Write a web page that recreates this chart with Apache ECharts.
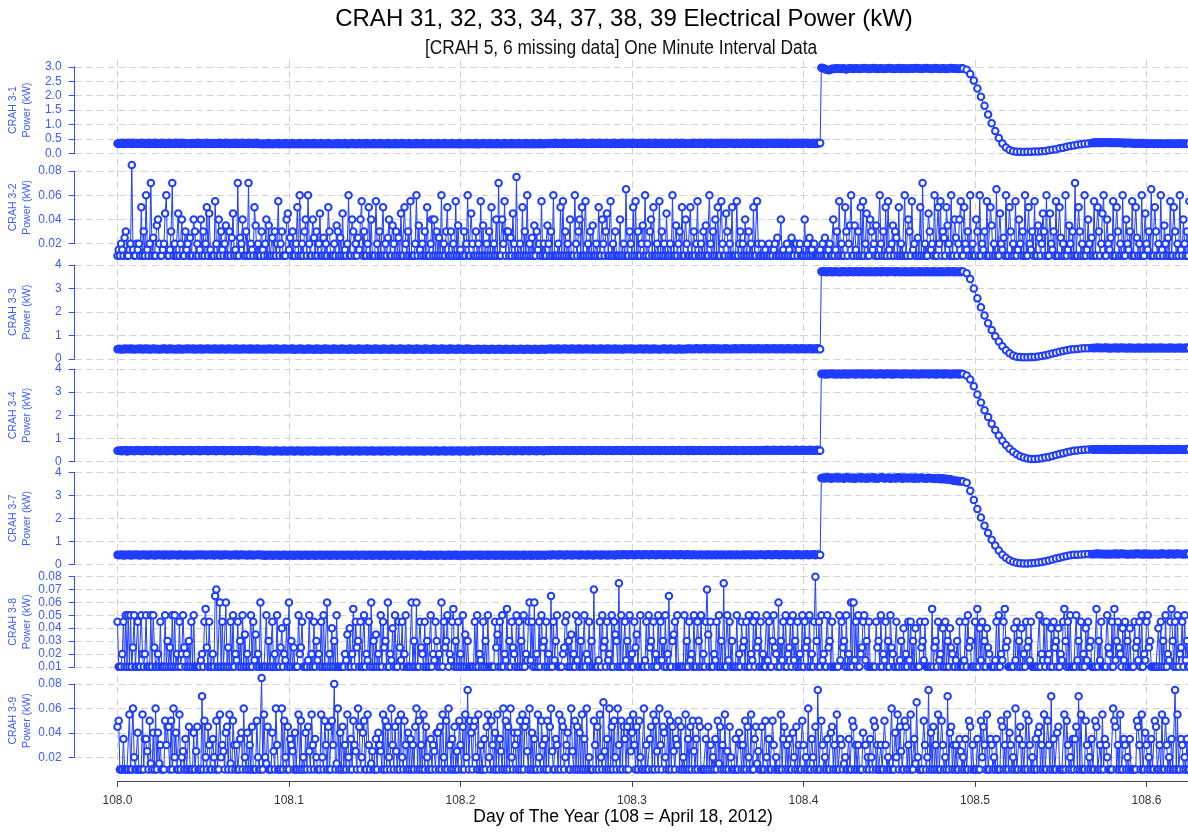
<!DOCTYPE html>
<html>
<head>
<meta charset="utf-8">
<script src="https://cdn.jsdelivr.net/npm/echarts@6.0.0/dist/echarts.min.js"></script>
<style>
html, body { margin: 0; padding: 0; background: #fff; }
#main { width: 1188px; height: 832px; }
</style>
</head>
<body>
<div id="main"></div>
<script>
// time base: day of year 108.0, one sample per minute (fall sections every 3 min)
var dayStart = 108.0;

var panelNames = ['CRAH 3-1', 'CRAH 3-2', 'CRAH 3-3', 'CRAH 3-4', 'CRAH 3-7', 'CRAH 3-8', 'CRAH 3-9'];

// power traces: one char per minute, value = base + digit (base 36) / 100 kW; one row per hour
// fall sections: hundredths of kW every 3 minutes
var crah31LowBase = 0.29;
var crah31Low = [
    "5364736457 4637546354 7463547365 4736453746 3547364537 4635746354",
    "4536453746 3546374536 4635473645 3746354637 4536473546 3745364735",
    "3425342634 2534362435 2634253624 3526342536 2435263425 3624352634",
    "2435263425 3624253634 2536243526 3425362435 2634253624 3526342536",
    "3425362435 2634253624 3526342536 2435263425 3624352634 2435263425",
    "3624253634 2536243526 3425362435 2634253624 3526342536 2435263425",
    "4536453746 3546374536 4635473645 3746354637 4536473546 3745364735",
    "5364736457 4637546354 7463547365 4736453746 3547364537 4635746354",
    "5463745637 4563746573 6457364756 3746574635 7463574637 5647365746",
    "3745637465 7364756374 6573645736 4756374657 3645736475 6"
];
var crah31HighBase = 2.88;
var crah31High = [
    "9874320135 5467654576 4356765457 6545678765 4567865456 7654567876",
    "5456785467 6545676567 8765456787 6545678654 5676545678 7656545676"
];
var crah31Fall = [290,275,252,225,196,165,134,104,77,53,34,20,11,7,5,5,4,5,5,6,6,7,8,10,12,14,17,19,22,25,27,29,31,33,34,35];
var crah31RecBase = 0.29;
var crah31Rec = ["7869786978 8978697868 7867686576 6756564656 5465453545 4354534543 4354534543 4354534543 43"];

var crah33LowBase = 0.38;
var crah33Low = [
    "4635247365 3746254637 5264736253 7463524637 6253746352 4736253647",
    "5364725364 7253647352 6473526374 5263745362 7452637453 6274536273",
    "4536254736 2547362453 7264537261 4537264153 7264513726 4153726451",
    "3726451372 6451372645 1372645137 2645137264 5137264513 7264513726",
    "4513726451 3726451372 6451372645 1372645137 2645137264 5137264513",
    "4263514263 5142635142 6351426351 4263514263 5142635142 6351426351",
    "5364725364 7253647352 6473526374 5263745362 7452637453 6274536273",
    "4635247365 3746254637 5264736253 7463524637 6253746352 4736253647",
    "5746358647 3568473657 4836574635 8475364758 3647583657 4836574685",
    "4736584736 5847365847 3658473658 4736584736 5847365847 3"
];
var crah33HighBase = 3.66;
var crah33High = [
    "6475364753 6475346375 4635746357 4635746354 7364537465 3746537465",
    "4637546354 7364537463 5473645374 6354736453 7463547365 4736453746"
];
var crah33Fall = [365,340,300,258,220,185,152,123,97,74,54,37,24,15,10,8,7,7,8,9,11,13,16,19,23,27,31,34,37,40,42,43,45,46,46,47];
var crah33RecBase = 0.41;
var crah33Rec = ["6576857657 6857465758 6475865746 5847564758 4657485647 5846574857 4657485746 5748564758 46"];

var crah34LowBase = 0.42;
var crah34Low = [
    "4537264815 3746258463 7254836472 5384627354 8263745826 3745826374",
    "5826473582 6374582647 3582647358 2647358264 7358264735 8264735826",
    "3625142635 2416352413 6251436241 5362413526 1435261423 5162435162",
    "4352615243 6152436152 4361524361 5243615243 6152436152 4361524361",
    "5243615243 6152436152 4361524361 5243615243 6152436152 4361524361",
    "4536274536 2745362745 3627453627 4536274536 2745362745 3627453627",
    "5637485637 4856374856 3748563748 5637485637 4856374856 3748563748",
    "6475836475 8364758364 7583647583 6475836475 8364758364 7583647583",
    "5748365748 3657483657 4836574836 5748365748 3657483657 4836574836",
    "6857496857 4968574968 5749685749 6857496857 4968574968 5"
];
var crah34HighBase = 3.72;
var crah34High = [
    "7586475869 5746857469 5847586749 5768495867 4958674859 6748596758",
    "4859675846 9576847596 5847695867 4958674958 6749586745 9586749586"
];
var crah34Fall = [372,355,325,290,255,222,192,163,136,112,90,71,55,42,31,23,17,13,11,11,12,14,17,20,24,28,32,36,40,43,46,48,50,51,52,53];
var crah34RecBase = 0.47;
var crah34Rec = ["5465746546 7456354647 5364756453 7465364756 4537465364 7564536475 6453746536 4756453647 56"];

var crah37LowBase = 0.36;
var crah37Low = [
    "5364725364 7253647352 6473526374 5263745362 7452637453 6274536273",
    "4635247365 3746254637 5264736253 7463524637 6253746352 4736253647",
    "3526142536 1425361425 3614253614 2536142536 1425361425 3614253614",
    "2536142536 1425361425 3614253614 2536142536 1425361425 3614253614",
    "3625142635 2416352413 6251436241 5362413526 1435261423 5162435162",
    "4352615243 6152436152 4361524361 5243615243 6152436152 4361524361",
    "4536274536 2745362745 3627453627 4536274536 2745362745 3627453627",
    "5637485637 4856374856 3748563748 5637485637 4856374856 3748563748",
    "4637546354 7364537463 5473645374 6354736453 7463547365 4736453746",
    "5746358647 3568473657 4836574635 8475364758 3647583657 4"
];
var crah37HighBase = 3.58;
var crah37High = [
    "hifjgkhiej gihkfjhgie jhkgifhjeg ihjfkghiej hgikfjhegi jkhfgihjeg",
    "hifjgkhiej gihfjhgiej hgfjhifgeh ighfegdfeh cdgcebdacb 7564534232"
];
var crah37Fall = [355,320,280,240,203,168,136,107,82,60,42,28,18,11,7,5,4,4,5,6,8,10,13,17,21,25,29,33,36,39,41,42,43,44,45,44];
var crah37RecBase = 0.40;
var crah37Rec = ["5465746546 3546354647 5364756453 4465364756 4537465364 3564536475 6453746536 4756453647 45"];

// low-level units, one char per minute, value = digit (base 36) x 0.005 kW; one row per hour
var crah32Rows = [
    "2324325622 34h3224342 a262c324e2 5227842234 9c2236e242 2924822634",
    "2522862423 82624a2932 22b4282632 4722625923 2e25482262 e2432a7242",
    "2632482722 52624b2462 2289352622 4a2c242682 c422852624 9225242a62",
    "2242762529 2324c22862 42538b2622 4a28222b42 622a242582 2742625292",
    "2a4262b222 4c27324262 a224828262 52c2426a22 6242b27232 2624c22942",
    "26242b2722 4262a24282 e2284b2662 52942f2242 a262c24252 726342b242",
    "274262c222 42a2b26242 8222c42682 a22b242627 2242a22842 6922b24262",
    "2282242d22 642a2b2622 472c242682 a2242b2624 292242c227 2462a22842",
    "2a22624b22 4262722c42 6282a22b42 296242a222 b246242822 6242a22b42",
    "2422322423 2342522823 2242325224 4234222824 2523242222 3242522342",
    "282362b242 2a6247c227 3262a2b249 2286342722 c4262a2b32 472652a242",
    "2c22862b34 2252a2e242 296342c22a 4b2652a742 c2285248b2 2a4362c242",
    "2862c24362 b22a7242d2 294352c22a 6242b23842 62c22a4362 b227524962",
    "c2294362b2 2a5242c237 4262e22a62 42c2384252 b22a6249c2 284352b22a",
    "6242c22843 62b22a5242 c2294362d2 2a6242c327 4252b22a62 42c3284262",
    "b"
];
var crah38Rows = [
    "9222492a2a 2a25a22922 a424a222a2 a522429222 a26252a2a2 42924a5242",
    "6292a22222 3429b52922 42de22c292 2c25292a24 39262a2724 22a2937242",
    "c2222a2622 9242a22582 4392c26252 22a4592222 3a24292634 292a22c242",
    "8262a22222 24372824b2 9562922a24 392c262724 2a29562c24 382a229539",
    "24a2222c26 2c22954292 622a243962 42c2956a24 39b2629242 a272622222",
    "92a2432926 2a22222957 292a243b26 29542a2926 2a2439c392 c24292a562",
    "9242d2936a 2222459a26 27242a3926 22a2439262 e222392a56 29342a2976",
    "2f2a229362 a24295722a 222392a562 9242a39362 a24d226792 a22222a262",
    "9342a22962 a2429e7292 24392a262f 22a3926222 a242956292 a24392a562",
    "92422a3922 6a542c2639 2a24592a36 29242a2956 2a2429g629 2a3422a562",
    "922222a395 62a242c2c3 92a2459a36 2922222956 2a2439262a 5422922362",
    "8242939262 8222956392 2222b25629 3428292628 5422362922 2392a56222",
    "92b2839262 8542222392 a2439b5622 2228392628 2429563922 2222a24392",
    "9342829562 82439b6292 a2222a3629 2428395622 22b2639222 2a54292b36",
    "9542839262 8222956392 a2439a5622 2222829262 a2439b6292 a24592a362",
    "2"
];
var crah39Rows = [
    "9a22272222 b22c422822 2b27752a32 82c2836222 a6992a2c48 22b2452722",
    "9222825922 2e2a429622 742a22b465 2892b32a62 622782c428 2629222a42",
    "2h2b439222 852c6222c2 a429276528 22b2a24282 952b627422 2b42a62922",
    "a6g23c2829 262b4272a6 52c9248a22 b623522728 652b2a2942 c62952a2b4",
    "2a62827262 9c2a262b29 4227265288 292b42a2c6 2729252a62 92b4f2a829",
    "a42b262272 9b42a6282b 2752c2a292 c4286282a2 b29a52c282 722b42a627",
    "2a29c52276 2b2a924682 2c52a29282 b272c24222 a6292b42d5 272c292a42",
    "c62a297292 a58b6292a4 22c2622792 b2a52c6298 42b2a29527 6a29242b27",
    "292a5272a9 2222729262 4272a39262 b252942227 2286262a29 42b2279352",
    "2922a42722 a624222b27 9262722842 92622a6242 c2274292f2 2a62427228",
    "9262b22762 3422722a92 6262228662 42742a9262 2622a62422 c2284b2952",
    "2a9262b227 3d42222a62 4f2829262b 22a6242e28 9262622752 42722a9262",
    "22722a4962 b227624272 22a9262b28 6242c22792 622b2a6242 27289262b2",
    "2a62e27228 92222b2a62 4272792e2b 222a624272 2a92262b27 642222ca92",
    "62b2276242 722222a962 b228624272 2a92262b22 a6242722f2 b227624272",
    "2"
];

function decodeRows(rows, base, unit) {
    return rows.join('').replace(/\s/g, '').split('').map(function (c) {
        return base + parseInt(c, 36) * unit;
    });
}
function hundredths(arr) {
    return arr.map(function (v) { return v / 100; });
}
// segments: [minutes between samples, values in kW]
function buildSeries(segments) {
    var out = [], t = 0, first = true;
    segments.forEach(function (seg) {
        seg[1].forEach(function (v) {
            if (!first) { t += seg[0]; }
            first = false;
            out.push([dayStart + t / 1440, v]);
        });
    });
    return out;
}
function powerSeries(low, lowBase, high, highBase, fall, rec, recBase) {
    return buildSeries([
        [1, decodeRows(low, lowBase, 0.01)],
        [1, decodeRows(high, highBase, 0.01)],
        [3, hundredths(fall)],
        [1, decodeRows(rec, recBase, 0.01)]
    ]);
}
function noiseSeries(rows) {
    return buildSeries([[1, decodeRows(rows, 0, 0.005)]]);
}

var seriesData = [
    powerSeries(crah31Low, crah31LowBase, crah31High, crah31HighBase, crah31Fall, crah31Rec, crah31RecBase),
    noiseSeries(crah32Rows),
    powerSeries(crah33Low, crah33LowBase, crah33High, crah33HighBase, crah33Fall, crah33Rec, crah33RecBase),
    powerSeries(crah34Low, crah34LowBase, crah34High, crah34HighBase, crah34Fall, crah34Rec, crah34RecBase),
    powerSeries(crah37Low, crah37LowBase, crah37High, crah37HighBase, crah37Fall, crah37Rec, crah37RecBase),
    noiseSeries(crah38Rows),
    noiseSeries(crah39Rows)
];

// layout
var pxPerDay = 1715;
var x0Px = 117.5;          // pixel of day 108.0
var xMin = 107.975, xMax = 108.7;
var plotLeft = x0Px - (dayStart - xMin) * pxPerDay;
var plotWidth = (xMax - xMin) * pxPerDay;
var dataBlue = '#1f3dff';
var axisBlue = '#2f50ff';
var labelBlue = '#3a5cff';
var gridGray = '#d2d2d2';
var fontFam = '"Liberation Sans", Arial, sans-serif';

var panels = [
    { lo: 0, hi: 3, step: 0.5, dec: 1, loPx: 153.2, hiPx: 66.8 },
    { lo: 0.02, hi: 0.08, step: 0.02, dec: 2, loPx: 243.7, hiPx: 171 },
    { lo: 0, hi: 4, step: 1, dec: 0, loPx: 359, hiPx: 265 },
    { lo: 0, hi: 4, step: 1, dec: 0, loPx: 461.5, hiPx: 369 },
    { lo: 0, hi: 4, step: 1, dec: 0, loPx: 564.3, hiPx: 472.3 },
    { lo: 0.01, hi: 0.08, step: 0.01, dec: 2, loPx: 666.8, hiPx: 576.7 },
    { lo: 0.02, hi: 0.08, step: 0.02, dec: 2, loPx: 757.3, hiPx: 684 }
];

var grids = [], xAxes = [], yAxes = [], series = [], graphics = [];

panels.forEach(function (p, k) {
    grids.push({ left: plotLeft, width: plotWidth, top: p.hiPx, height: p.loPx - p.hiPx, outerBoundsMode: 'none', containLabel: false });
    xAxes.push({ type: 'value', gridIndex: k, min: xMin, max: xMax, show: false });
    yAxes.push({
        type: 'value', gridIndex: k, min: p.lo, max: p.hi, interval: p.step,
        axisLine: { show: true, lineStyle: { color: axisBlue, width: 1 } },
        axisTick: { show: true, inside: false, length: 6, lineStyle: { color: axisBlue } },
        axisLabel: {
            color: labelBlue, fontSize: 12, fontFamily: fontFam, margin: 13,
            formatter: function (v) { return v.toFixed(p.dec); }
        },
        splitLine: { show: true, lineStyle: { color: gridGray, width: 1, type: [7, 4] } }
    });
    series.push({
        type: 'line', xAxisIndex: k, yAxisIndex: k,
        data: seriesData[k],
        symbol: 'emptyCircle', symbolSize: 6.5, showSymbol: true, showAllSymbol: true,
        clip: false, silent: true, animation: false,
        lineStyle: { color: dataBlue, width: 1 },
        itemStyle: { color: dataBlue, borderColor: dataBlue, borderWidth: 1 }
    });
    var mid = (p.loPx + p.hiPx) / 2;
    graphics.push({
        type: 'text', x: 13, y: mid, rotation: Math.PI / 2,
        style: { text: panelNames[k], fill: labelBlue, font: '10.5px ' + fontFam, textAlign: 'center', textVerticalAlign: 'middle' }
    });
    graphics.push({
        type: 'text', x: 27, y: mid, rotation: Math.PI / 2,
        style: { text: 'Power (kW)', fill: labelBlue, font: '10.5px ' + fontFam, textAlign: 'center', textVerticalAlign: 'middle' }
    });
});

// vertical dashed grid over all panels
var vIdx = grids.length;
grids.push({ left: x0Px, width: (xMax - dayStart) * pxPerDay, top: 60, height: 716, outerBoundsMode: 'none', containLabel: false });
xAxes.push({
    type: 'value', gridIndex: vIdx, min: dayStart, max: xMax, interval: 0.1,
    axisLine: { show: false }, axisTick: { show: false }, axisLabel: { show: false },
    splitLine: { show: true, lineStyle: { color: gridGray, width: 1, type: [7, 4] } }
});
yAxes.push({ type: 'value', gridIndex: vIdx, min: 0, max: 1, show: false });

// bottom time axis
var xIdx = grids.length;
grids.push({ left: x0Px, width: (xMax - dayStart) * pxPerDay, top: 780, height: 1, outerBoundsMode: 'none', containLabel: false });
xAxes.push({
    type: 'value', gridIndex: xIdx, position: 'bottom', min: dayStart, max: xMax, interval: 0.1,
    axisLine: { show: true, onZero: false, lineStyle: { color: '#444', width: 1 } },
    axisTick: { show: true, inside: false, length: 6, lineStyle: { color: '#444' } },
    axisLabel: {
        color: '#333', fontSize: 12, fontFamily: fontFam, margin: 14,
        formatter: function (v) { return v.toFixed(1); }
    },
    splitLine: { show: false }
});
yAxes.push({ type: 'value', gridIndex: xIdx, min: 0, max: 1, show: false });

graphics.push({
    type: 'text', x: 624, y: 19,
    style: { text: 'CRAH 31, 32, 33, 34, 37, 38, 39 Electrical Power (kW)', fill: '#000', font: '24px ' + fontFam, textAlign: 'center', textVerticalAlign: 'middle' }
});
graphics.push({
    type: 'text', x: 621, y: 48, scaleX: 0.867,
    style: { text: '[CRAH 5, 6 missing data] One Minute Interval Data', fill: '#111', font: '20px ' + fontFam, textAlign: 'center', textVerticalAlign: 'middle' }
});
graphics.push({
    type: 'text', x: 623, y: 817,
    style: { text: 'Day of The Year (108 = April 18, 2012)', fill: '#000', font: '17.5px ' + fontFam, textAlign: 'center', textVerticalAlign: 'middle' }
});

var chart = echarts.init(document.getElementById('main'), null, { renderer: 'canvas' });
chart.setOption({
    animation: false,
    backgroundColor: '#fff',
    grid: grids,
    xAxis: xAxes,
    yAxis: yAxes,
    series: series,
    graphic: graphics
});
</script>
</body>
</html>
